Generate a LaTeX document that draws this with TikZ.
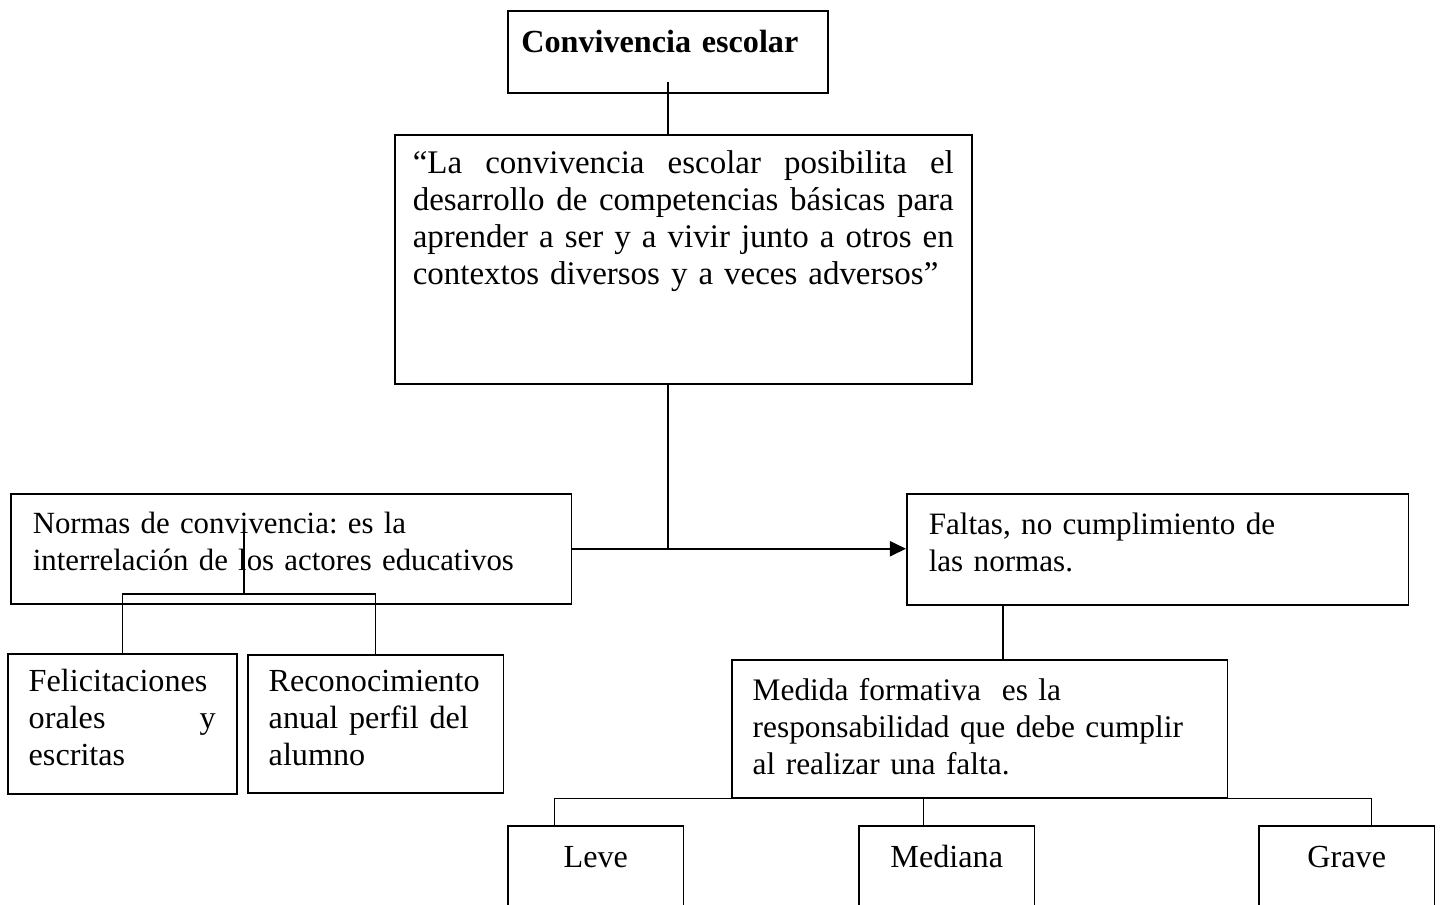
\documentclass[tikz,border=0pt]{standalone}
\usepackage{fontspec}
\setmainfont{Liberation Serif}
\usetikzlibrary{arrows.meta}

\tikzset{
  letra/.style={font=\fontsize{#1}{13.8pt}\selectfont\frenchspacing},
  marco/.style={draw, line width=0.6pt, anchor=north west, inner ysep=0pt, inner xsep=#1,
    align=left, letra=12pt},
  marco/.default=8.2pt,
  tipo/.style={marco=0pt, align=center, text width=65.6pt, text height=15.7pt, text depth=29.1pt},
  enlace/.style={line width=0.55pt},
  flecha/.style={line width=0.75pt, -{Triangle[length=6pt,width=5.6pt]}}
}

\begin{document}
\begin{tikzpicture}[x=0.373pt, y=-0.373pt]

        \useasboundingbox (0,0) rectangle (1442,905);
        \fill [white] (0,0) rectangle (1442,905);
        \clip (0,0) rectangle (1442,905);

        %Title
        \node [marco=0pt, align=center, text width=119.4pt, text height=15.7pt, text depth=14.9pt,
               font=\fontsize{12pt}{13.8pt}\selectfont\bfseries] (A) at (507,10)
          {\hspace*{-6pt}Convivencia escolar};

        %Quote
        \node [marco=6.7pt, letra=12.3pt, text width=201.8pt, text height=14.5pt, text depth=78.4pt] (B) at (394,134)
          {\makebox[201.8pt][s]{“La \hfill convivencia \hfill escolar \hfill posibilita \hfill el}\\
           \makebox[201.8pt][s]{desarrollo \hfill de \hfill competencias \hfill básicas \hfill para}\\
           \makebox[201.8pt][s]{aprender \hfill a \hfill ser \hfill y \hfill a \hfill vivir \hfill junto \hfill a \hfill otros \hfill en}\\
           contextos diversos y a veces adversos”};

        %Normas
        \node [marco, letra=11.5pt, text width=192.8pt, text height=14.9pt, text depth=26.1pt] (C) at (10,493)
          {Normas de convivencia: es la\\ interrelación de los actores educativos};
        \node [marco=7.8pt, text width=69.8pt, text height=14.2pt, text depth=38.0pt] (F) at (7,653)
          {Felicitaciones\\ \makebox[69.8pt][s]{orales \hfill y}\\ escritas};
        \node [marco=7.8pt, text width=79.8pt, text height=13.8pt, text depth=37.7pt] (G) at (247,654)
          {Reconocimiento\\ anual perfil del\\ alumno};

        %Faltas
        \node [marco, letra=11.6pt, text width=170.8pt, text height=15.3pt, text depth=26.1pt] (D) at (906,493)
          {Faltas, no cumplimiento de\\ las normas.};
        \node [marco=7.8pt, letra=11.7pt, text width=169.3pt, text height=15.3pt, text depth=36.2pt] (E) at (731,659)
          {Medida formativa \ es la\\ responsabilidad que debe cumplir\\ al realizar una falta.};
        \node [tipo] (Lev) at (507,825)  {Leve};
        \node [tipo] (Med) at (858,825)  {Mediana};
        \node [tipo] (Gra) at (1258,825) {Grave};

        %Connectors
        \draw [enlace] ([yshift=4.5pt]A.south) -- (A.south |- B.north);
        \draw [enlace] (A.south |- B.south) -- (A.south |- C.east);
        \draw [flecha] (C.east) -- (C.east -| D.west);

        \coordinate (hubN) at (244,594);
        \draw [enlace] (hubN) -- ++(0,-61);
        \draw [enlace] (F.north) |- (hubN) -| (G.north);

        \coordinate (hubF) at ([xshift=36.2pt]D.south west);
        \draw [enlace] (hubF) -- (hubF |- E.north);

        \coordinate (levT) at ([xshift=-15.3pt]Lev.north);
        \coordinate (medT) at ([xshift=-8.6pt]Med.north);
        \coordinate (graT) at ([xshift=9.3pt]Gra.north);
        \draw [enlace] (levT) |- (E.south) -| (graT);
        \draw [enlace] (medT) -- (medT |- E.south);

\end{tikzpicture}
\end{document}
